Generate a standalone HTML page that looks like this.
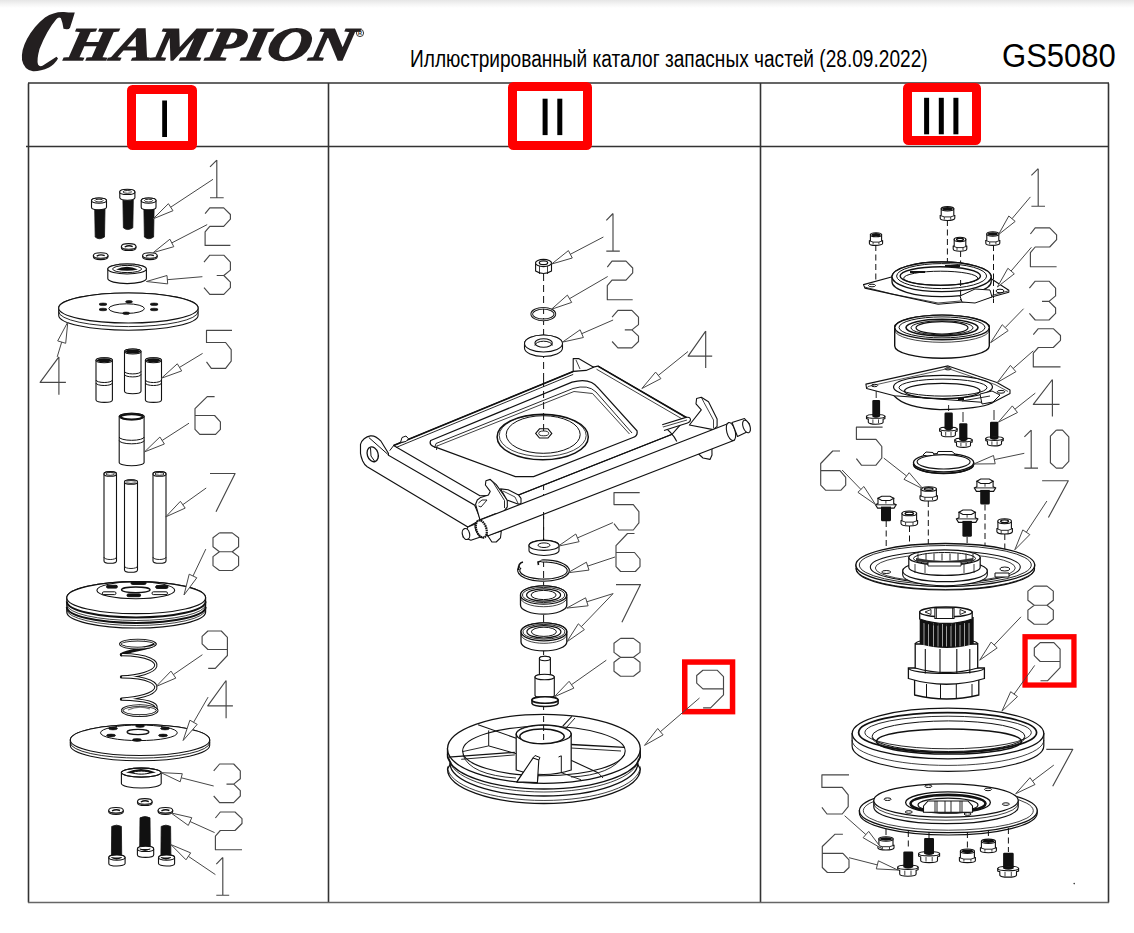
<!DOCTYPE html>
<html><head><meta charset="utf-8">
<style>
html,body{margin:0;padding:0;background:#fff;}
body{width:1134px;height:933px;position:relative;overflow:hidden;font-family:"Liberation Sans",sans-serif;}
#topband{position:absolute;left:0;top:0;width:1134px;height:8px;background:linear-gradient(#e6e6e6,#f4f4f4 50%,#fff);}
.logo{position:absolute;left:20px;top:4px;font-family:"Liberation Serif",serif;font-weight:bold;font-style:italic;color:#231f20;white-space:nowrap;}
.hdr{position:absolute;white-space:nowrap;color:#000;}
svg{position:absolute;left:0;top:0;}
</style></head><body>
<div id="topband"></div>
<svg width="1134" height="933" viewBox="0 0 1134 933">
<!-- table -->
<g stroke="#333" stroke-width="1.6" fill="none">
<path d="M28.5 83.5 V902.5 M1108.5 83.5 V902.5 M28 83 H1109 M26 146.5 H1109"/>
<path d="M328.5 83 V902.5 M760.5 83 V902.5"/>
</g>
<path d="M28 902.5 H1109" stroke="#666" stroke-width="1.4"/>
<!-- red boxes -->
<g stroke="#ff0000" fill="none" stroke-width="9" stroke-linejoin="round">
<rect x="131.5" y="89.5" width="61" height="56" rx="1"/>
<rect x="512.5" y="86.5" width="75" height="59" rx="1"/>
<rect x="907.5" y="87.5" width="69" height="53" rx="1"/>
</g>
<g fill="#000">
<rect x="162.2" y="100.5" width="4.8" height="36.5"/>
<rect x="542.6" y="98.7" width="5" height="36.4"/>
<rect x="557.3" y="98.7" width="5" height="36.4"/>
<rect x="924.1" y="97.8" width="5" height="36.5"/>
<rect x="938.8" y="97.8" width="5" height="36.5"/>
<rect x="953.4" y="97.8" width="5" height="36.5"/>
</g>
<path d="M94.7 208.8 L95.2 237 Q99 240.5 104.5 237 L105 208.8 Z" fill="#111" stroke="#111" stroke-width="0.8"/>
<path d="M91.5 200.6 L91.5 207.2 A7.5 2.6 0 0 0 106.5 207.2 L106.5 200.6 A7.5 2.6 0 0 0 91.5 200.6 Z" fill="#fff" stroke="#111" stroke-width="1.1"/>
<ellipse cx="99" cy="200.6" rx="7.5" ry="2.6" fill="#fff" stroke="#111" stroke-width="1.1" />
<ellipse cx="99" cy="200.6" rx="4.1" ry="1.4" fill="none" stroke="#111" stroke-width="0.9" />
<path d="M122.9 199.5 L123.4 227.8 Q127.3 231.3 132.8 227.8 L133.3 199.5 Z" fill="#111" stroke="#111" stroke-width="0.8"/>
<path d="M119.8 191.9 L119.8 197.9 A7.6 2.6 0 0 0 134.9 197.9 L134.9 191.9 A7.6 2.6 0 0 0 119.8 191.9 Z" fill="#fff" stroke="#111" stroke-width="1.1"/>
<ellipse cx="127.3" cy="191.9" rx="7.6" ry="2.6" fill="#fff" stroke="#111" stroke-width="1.1" />
<ellipse cx="127.3" cy="191.9" rx="4.2" ry="1.4" fill="none" stroke="#111" stroke-width="0.9" />
<path d="M143.9 208.8 L144.4 237 Q148.6 240.5 153.6 237 L154.1 208.8 Z" fill="#111" stroke="#111" stroke-width="0.8"/>
<path d="M141.2 200.6 L141.2 207.2 A7.4 2.6 0 0 0 156 207.2 L156 200.6 A7.4 2.6 0 0 0 141.2 200.6 Z" fill="#fff" stroke="#111" stroke-width="1.1"/>
<ellipse cx="148.6" cy="200.6" rx="7.4" ry="2.6" fill="#fff" stroke="#111" stroke-width="1.1" />
<ellipse cx="148.6" cy="200.6" rx="4.1" ry="1.4" fill="none" stroke="#111" stroke-width="0.9" />
<path d="M121.4 246.4 V247.7 A7.3 2.8 0 0 0 136 247.7 V246.4" fill="#fff" stroke="#111" stroke-width="1.1"/>
<ellipse cx="128.7" cy="246.4" rx="7.3" ry="2.8" fill="#fff" stroke="#111" stroke-width="1.1" />
<path d="M124.7 247 Q128.7 244.8 132.7 246.6" fill="none" stroke="#111" stroke-width="1.4"/>
<path d="M93.4 255.5 V256.8 A7.3 2.8 0 0 0 108 256.8 V255.5" fill="#fff" stroke="#111" stroke-width="1.1"/>
<ellipse cx="100.7" cy="255.5" rx="7.3" ry="2.8" fill="#fff" stroke="#111" stroke-width="1.1" />
<path d="M96.7 256.1 Q100.7 253.9 104.7 255.7" fill="none" stroke="#111" stroke-width="1.4"/>
<path d="M142.6 255.5 V256.8 A7.3 2.8 0 0 0 157.2 256.8 V255.5" fill="#fff" stroke="#111" stroke-width="1.1"/>
<ellipse cx="149.9" cy="255.5" rx="7.3" ry="2.8" fill="#fff" stroke="#111" stroke-width="1.1" />
<path d="M145.9 256.1 Q149.9 253.9 153.9 255.7" fill="none" stroke="#111" stroke-width="1.4"/>
<path d="M107.8 269 L107.8 278.6 A19.3 5 0 0 0 146.4 278.6 L146.4 269 A19.3 5 0 0 0 107.8 269 Z" fill="#fff" stroke="#111" stroke-width="1.1"/>
<ellipse cx="127.1" cy="269" rx="19.3" ry="5" fill="#fff" stroke="#111" stroke-width="1.1" />
<ellipse cx="127.1" cy="269" rx="14.5" ry="3.6" fill="none" stroke="#111" stroke-width="1.0" />
<path d="M116 269.5 Q127 264 138 269.5 Q127 272 116 269.5Z" fill="#111"/>
<path d="M58.7 308 L58.7 315.2 A69.7 15 0 0 0 198.1 315.2 L198.1 308 A69.7 15 0 0 0 58.7 308 Z" fill="#fff" stroke="#111" stroke-width="1.1"/>
<ellipse cx="128.4" cy="308" rx="69.7" ry="15" fill="#fff" stroke="#111" stroke-width="1.1" />
<path d="M58.7 311.6 A69.7 15 0 0 0 198.1 311.6" fill="none" stroke="#111" stroke-width="0.9"/>
<ellipse cx="126.6" cy="308.6" rx="17.8" ry="4.8" fill="none" stroke="#111" stroke-width="1.0" />
<ellipse cx="103" cy="304.3" rx="4" ry="1.3" fill="#111" stroke="#111" stroke-width="0.6" />
<ellipse cx="103" cy="309.5" rx="4" ry="1.3" fill="#111" stroke="#111" stroke-width="0.6" />
<ellipse cx="154.1" cy="304.3" rx="4" ry="1.3" fill="#111" stroke="#111" stroke-width="0.6" />
<ellipse cx="154.1" cy="309.5" rx="4" ry="1.3" fill="#111" stroke="#111" stroke-width="0.6" />
<ellipse cx="129" cy="301.8" rx="3.5" ry="1.3" fill="#111" stroke="#111" stroke-width="0.6" />
<ellipse cx="126.2" cy="313.3" rx="3.5" ry="1.3" fill="#111" stroke="#111" stroke-width="0.6" />
<path d="M96 360.3 L96 399.9 A8.2 2.5 0 0 0 112.4 399.9 L112.4 360.3 A8.2 2.5 0 0 0 96 360.3 Z" fill="#fff" stroke="#111" stroke-width="1.1"/>
<ellipse cx="104.2" cy="360.3" rx="8.2" ry="2.5" fill="#fff" stroke="#111" stroke-width="1.1" />
<ellipse cx="104.2" cy="360.3" rx="7.7" ry="2" fill="#111"/>
<path d="M96 380 A8.2 2.5 0 0 0 112.4 380" fill="none" stroke="#111" stroke-width="1.0"/>
<path d="M96 383 A8.2 2.5 0 0 0 112.4 383" fill="none" stroke="#111" stroke-width="1.0"/>
<path d="M124.5 351.5 L124.5 391.2 A8.2 2.5 0 0 0 141 391.2 L141 351.5 A8.2 2.5 0 0 0 124.5 351.5 Z" fill="#fff" stroke="#111" stroke-width="1.1"/>
<ellipse cx="132.8" cy="351.5" rx="8.2" ry="2.5" fill="#fff" stroke="#111" stroke-width="1.1" />
<ellipse cx="132.8" cy="351.5" rx="7.8" ry="2" fill="#111"/>
<path d="M124.5 371.4 A8.2 2.5 0 0 0 141 371.4" fill="none" stroke="#111" stroke-width="1.0"/>
<path d="M124.5 374.4 A8.2 2.5 0 0 0 141 374.4" fill="none" stroke="#111" stroke-width="1.0"/>
<path d="M145.4 360.3 L145.4 399.9 A8 2.5 0 0 0 161.5 399.9 L161.5 360.3 A8 2.5 0 0 0 145.4 360.3 Z" fill="#fff" stroke="#111" stroke-width="1.1"/>
<ellipse cx="153.4" cy="360.3" rx="8" ry="2.5" fill="#fff" stroke="#111" stroke-width="1.1" />
<ellipse cx="153.4" cy="360.3" rx="7.5" ry="2" fill="#111"/>
<path d="M145.4 380 A8 2.5 0 0 0 161.5 380" fill="none" stroke="#111" stroke-width="1.0"/>
<path d="M145.4 383 A8 2.5 0 0 0 161.5 383" fill="none" stroke="#111" stroke-width="1.0"/>
<path d="M119.2 416.5 L119.2 462.5 A12.4 3.3 0 0 0 144.1 462.5 L144.1 416.5 A12.4 3.3 0 0 0 119.2 416.5 Z" fill="#fff" stroke="#111" stroke-width="1.1"/>
<ellipse cx="131.7" cy="416.5" rx="12.4" ry="3.3" fill="#fff" stroke="#111" stroke-width="1.1" />
<ellipse cx="131.7" cy="416.8" rx="11" ry="2.6" fill="#fff" stroke="#111" stroke-width="2.0" />
<path d="M119.2 437 A12.4 3.3 0 0 0 144.1 437" fill="none" stroke="#111" stroke-width="1.0"/>
<path d="M119.2 440.5 A12.4 3.3 0 0 0 144.1 440.5" fill="none" stroke="#111" stroke-width="1.0"/>
<path d="M104 473.9 L104 560.9 A6.2 2.3 0 0 0 116.5 560.9 L116.5 473.9 A6.2 2.3 0 0 0 104 473.9 Z" fill="#fff" stroke="#111" stroke-width="1.1"/>
<ellipse cx="110.2" cy="473.9" rx="6.2" ry="2.3" fill="#fff" stroke="#111" stroke-width="1.1" />
<ellipse cx="110.2" cy="473.9" rx="4.2" ry="1.4" fill="none" stroke="#111" stroke-width="0.9" />
<path d="M104 557.2 A6.2 2.3 0 0 0 116.5 557.2" fill="none" stroke="#111" stroke-width="0.9"/>
<path d="M124.5 482 L124.5 569.9 A6.5 2.3 0 0 0 137.5 569.9 L137.5 482 A6.5 2.3 0 0 0 124.5 482 Z" fill="#fff" stroke="#111" stroke-width="1.1"/>
<ellipse cx="131" cy="482" rx="6.5" ry="2.3" fill="#fff" stroke="#111" stroke-width="1.1" />
<ellipse cx="131" cy="482" rx="4.5" ry="1.4" fill="none" stroke="#111" stroke-width="0.9" />
<path d="M124.5 566.2 A6.5 2.3 0 0 0 137.5 566.2" fill="none" stroke="#111" stroke-width="0.9"/>
<path d="M153 473.9 L153 560.9 A6.5 2.3 0 0 0 166 560.9 L166 473.9 A6.5 2.3 0 0 0 153 473.9 Z" fill="#fff" stroke="#111" stroke-width="1.1"/>
<ellipse cx="159.5" cy="473.9" rx="6.5" ry="2.3" fill="#fff" stroke="#111" stroke-width="1.1" />
<ellipse cx="159.5" cy="473.9" rx="4.5" ry="1.4" fill="none" stroke="#111" stroke-width="0.9" />
<path d="M153 557.2 A6.5 2.3 0 0 0 166 557.2" fill="none" stroke="#111" stroke-width="0.9"/>
<path d="M66.8 597.7 L66.8 612 A69.4 16 0 0 0 205.6 612 L205.6 597.7 A69.4 16 0 0 0 66.8 597.7 Z" fill="#fff" stroke="#111" stroke-width="1.2"/>
<ellipse cx="136.2" cy="597.7" rx="69.4" ry="16" fill="#fff" stroke="#111" stroke-width="1.2" />
<path d="M66.8 601.5 A69.4 16 0 0 0 205.6 601.5" fill="none" stroke="#111" stroke-width="2.0"/>
<path d="M66.8 604.5 A69.4 16 0 0 0 205.6 604.5" fill="none" stroke="#111" stroke-width="0.8"/>
<path d="M66.8 607 A69.4 16 0 0 0 205.6 607" fill="none" stroke="#111" stroke-width="2.0"/>
<path d="M66.8 609.5 A69.4 16 0 0 0 205.6 609.5" fill="none" stroke="#111" stroke-width="0.8"/>
<ellipse cx="135.8" cy="590.2" rx="38.9" ry="8.5" fill="none" stroke="#111" stroke-width="1.1" />
<ellipse cx="135.8" cy="589.8" rx="14.3" ry="2.8" fill="none" stroke="#111" stroke-width="1.3" />
<rect x="131" y="581.6" width="15.099999999999994" height="2.8" rx="1.4" fill="#111" stroke="#111" stroke-width="1"/>
<rect x="106.5" y="585.3000000000001" width="10.900000000000006" height="2.8" rx="1.4" fill="#111" stroke="#111" stroke-width="1"/>
<rect x="155.7" y="585.6" width="12.300000000000011" height="2.8" rx="1.4" fill="#111" stroke="#111" stroke-width="1"/>
<rect x="102.4" y="591.8000000000001" width="13.599999999999994" height="2.8" rx="1.4" fill="#fff" stroke="#111" stroke-width="1"/>
<rect x="152" y="591.8000000000001" width="15.5" height="2.8" rx="1.4" fill="#fff" stroke="#111" stroke-width="1"/>
<rect x="127" y="593.9" width="13.599999999999994" height="2.8" rx="1.4" fill="#111" stroke="#111" stroke-width="1"/>
<g fill="none" stroke="#111" stroke-width="3.3" stroke-linecap="round"><path d="M121.5 654.7 C150 655 157 662 155.7 666.3 C154 672 138 676.5 121.5 676.9 M121.5 676.9 C150 677 157 684 155.7 688.5 C154 694 138 698.5 121.5 699.1 M121.5 699.1 C148 699.5 157 704 156 708"/><path d="M121.5 654.7 C128 650 150 649 155 644"/></g>
<g fill="none" stroke="#fff" stroke-width="1.3" stroke-linecap="round"><path d="M122.5 654.7 C150 655 157 662 155.7 666.3 C154 672 138 676.5 122.5 676.9 M122.5 676.9 C150 677 157 684 155.7 688.5 C154 694 138 698.5 122.5 699.1 M122.5 699.1 C148 699.5 157 704 156 708"/></g>
<ellipse cx="137.8" cy="644.1" rx="17.5" ry="4" fill="none" stroke="#111" stroke-width="2.6" />
<ellipse cx="137.8" cy="644.1" rx="17.5" ry="4" fill="none" stroke="#fff" stroke-width="0.9" />
<ellipse cx="139.7" cy="710.6" rx="17.5" ry="5" fill="none" stroke="#111" stroke-width="2.6" />
<ellipse cx="139.7" cy="710.6" rx="17.5" ry="5" fill="none" stroke="#fff" stroke-width="0.9" />
<path d="M128 710 Q139 705 150 709" fill="none" stroke="#777" stroke-width="1.2"/>
<path d="M70.3 740 L70.3 745.3 A69.7 15.5 0 0 0 209.7 745.3 L209.7 740 A69.7 15.5 0 0 0 70.3 740 Z" fill="#fff" stroke="#111" stroke-width="1.1"/>
<ellipse cx="140" cy="740" rx="69.7" ry="15.5" fill="#fff" stroke="#111" stroke-width="1.1" />
<path d="M70.3 742.6 A69.7 15.5 0 0 0 209.7 742.6" fill="none" stroke="#111" stroke-width="0.9"/>
<ellipse cx="138.9" cy="732.8" rx="38.4" ry="7.8" fill="none" stroke="#111" stroke-width="1.0" />
<ellipse cx="138" cy="732" rx="11" ry="2.6" fill="none" stroke="#111" stroke-width="1.2" />
<ellipse cx="113" cy="728.5" rx="4.5" ry="1.4" fill="#111" stroke="#111" stroke-width="0.6" />
<ellipse cx="165" cy="728.5" rx="4.5" ry="1.4" fill="#111" stroke="#111" stroke-width="0.6" />
<ellipse cx="111" cy="735.5" rx="4.5" ry="1.4" fill="#111" stroke="#111" stroke-width="0.6" />
<ellipse cx="163" cy="735.5" rx="4.5" ry="1.4" fill="#111" stroke="#111" stroke-width="0.6" />
<ellipse cx="140" cy="726" rx="4.5" ry="1.4" fill="#111" stroke="#111" stroke-width="0.6" />
<ellipse cx="137" cy="740" rx="4.5" ry="1.4" fill="#111" stroke="#111" stroke-width="0.6" />
<path d="M121.4 772.6 L121.4 783.5 A19.9 4.5 0 0 0 161.2 783.5 L161.2 772.6 A19.9 4.5 0 0 0 121.4 772.6 Z" fill="#fff" stroke="#111" stroke-width="1.1"/>
<ellipse cx="141.3" cy="772.6" rx="19.9" ry="4.5" fill="#fff" stroke="#111" stroke-width="1.1" />
<path d="M126 772.6 Q141 765.5 156 772.6 Q141 776 126 772.6Z" fill="#111"/>
<ellipse cx="141.3" cy="772.6" rx="19.9" ry="4.5" fill="none" stroke="#111" stroke-width="1.0" />
<ellipse cx="141.3" cy="772.6" rx="8" ry="1.5" fill="#fff" stroke="#111" stroke-width="1.0" />
<path d="M137.5 801.4 V802.7 A7.3 2.8 0 0 0 152.1 802.7 V801.4" fill="#fff" stroke="#111" stroke-width="1.1"/>
<ellipse cx="144.8" cy="801.4" rx="7.3" ry="2.8" fill="#fff" stroke="#111" stroke-width="1.1" />
<path d="M140.8 802 Q144.8 799.8 148.8 801.6" fill="none" stroke="#111" stroke-width="1.4"/>
<path d="M108.7 810.3 V811.6 A7.3 2.8 0 0 0 123.3 811.6 V810.3" fill="#fff" stroke="#111" stroke-width="1.1"/>
<ellipse cx="116" cy="810.3" rx="7.3" ry="2.8" fill="#fff" stroke="#111" stroke-width="1.1" />
<path d="M112 810.9 Q116 808.7 120 810.5" fill="none" stroke="#111" stroke-width="1.4"/>
<path d="M158.1 810.3 V811.6 A7.3 2.8 0 0 0 172.7 811.6 V810.3" fill="#fff" stroke="#111" stroke-width="1.1"/>
<ellipse cx="165.4" cy="810.3" rx="7.3" ry="2.8" fill="#fff" stroke="#111" stroke-width="1.1" />
<path d="M161.4 810.9 Q165.4 808.7 169.4 810.5" fill="none" stroke="#111" stroke-width="1.4"/>
<path d="M111.4 855.9 L111.7 826.4 Q116.6 823.9 121.4 826.4 L121.7 855.9 Z" fill="#111" stroke="#111" stroke-width="0.8"/>
<path d="M108.8 857.5 L108.8 863.4 A8.1 2.6 0 0 0 125.1 863.4 L125.1 857.5 A8.1 2.6 0 0 0 108.8 857.5 Z" fill="#fff" stroke="#111" stroke-width="1.1"/>
<ellipse cx="116.9" cy="857.5" rx="8.1" ry="2.6" fill="#fff" stroke="#111" stroke-width="1.1" />
<path d="M111.4 857.5 Q116.6 860.5 121.7 857.5" fill="#111" stroke="#111"/>
<path d="M139.7 847.3 L140 817.8 Q145 815.3 150 817.8 L150.3 847.3 Z" fill="#111" stroke="#111" stroke-width="0.8"/>
<path d="M137.4 848.9 L137.4 854.8 A8.1 2.6 0 0 0 153.7 854.8 L153.7 848.9 A8.1 2.6 0 0 0 137.4 848.9 Z" fill="#fff" stroke="#111" stroke-width="1.1"/>
<ellipse cx="145.6" cy="848.9" rx="8.1" ry="2.6" fill="#fff" stroke="#111" stroke-width="1.1" />
<path d="M139.7 848.9 Q145 851.9 150.3 848.9" fill="#111" stroke="#111"/>
<path d="M160.9 855.9 L161.2 826.4 Q165.9 823.9 170.6 826.4 L170.9 855.9 Z" fill="#111" stroke="#111" stroke-width="0.8"/>
<path d="M158.5 857.5 L158.5 863.4 A8 2.6 0 0 0 174.6 863.4 L174.6 857.5 A8 2.6 0 0 0 158.5 857.5 Z" fill="#fff" stroke="#111" stroke-width="1.1"/>
<ellipse cx="166.6" cy="857.5" rx="8" ry="2.6" fill="#fff" stroke="#111" stroke-width="1.1" />
<path d="M160.9 857.5 Q165.9 860.5 170.9 857.5" fill="#111" stroke="#111"/>
<path d="M216.8 160.1 L216.8 197.7M216.8 160.1 L210 166.9M210 197.7 L223.7 197.7" fill="none" stroke="#474747" stroke-width="1.15" stroke-linejoin="round"/>
<path d="M205.1 213.7 L209.8 207.8 L223.7 207.8 L230.4 214.5 L230.4 219.2 L223.7 226.3 L209.8 226.3 L205.1 231.8 L205.1 245.4 L230.4 245.4" fill="none" stroke="#474747" stroke-width="1.15" stroke-linejoin="round"/>
<path d="M204 262.2 L209.8 255.2 L223.8 255.2 L230.4 262.2 L230.4 270.1 L223.8 275.5 L216.7 275.5M223.8 275.5 L230.4 282.2 L230.4 287.7 L223.8 294.3 L209.8 294.3 L204 287.7" fill="none" stroke="#474747" stroke-width="1.15" stroke-linejoin="round"/>
<path d="M58.9 356.9 L40.1 382.4 L65.9 382.4M58.9 356.9 L58.9 394.7" fill="none" stroke="#474747" stroke-width="1.15" stroke-linejoin="round"/>
<path d="M232 330.3 L206.5 330.3 L206.5 342.5 L225.6 342.5 L231.2 349.7 L231.2 361.1 L225.6 368.3 L211.3 368.3 L206.5 361.8" fill="none" stroke="#474747" stroke-width="1.15" stroke-linejoin="round"/>
<path d="M214.6 396.6 L207.2 396.6 L195 408.7 L195 429.4 L199.8 434.3 L215.6 434.3 L220.4 429.4 L220.4 421.9 L214.6 415.5 L195 415.5" fill="none" stroke="#474747" stroke-width="1.15" stroke-linejoin="round"/>
<path d="M210 473.5 L235.1 473.5 L216 511.7" fill="none" stroke="#474747" stroke-width="1.15" stroke-linejoin="round"/>
<path d="M219.4 532.9 L232.2 532.9 L238.6 537.8 L238.6 546.8 L232.2 551.7 L219.4 551.7 L213 546.8 L213 537.8 L219.4 532.9M219.4 551.7 L213 556.6 L213 565.6 L219.4 570.5 L232.2 570.5 L238.6 565.6 L238.6 556.6 L232.2 551.7" fill="none" stroke="#474747" stroke-width="1.15" stroke-linejoin="round"/>
<path d="M227.4 649.5 L207.9 649.5 L202.1 643.8 L202.1 636.3 L207.9 631 L221.3 631 L227.4 637.4 L227.4 655.5 L215.3 668.3 L208.2 668.3" fill="none" stroke="#474747" stroke-width="1.15" stroke-linejoin="round"/>
<path d="M226.1 680.5 L207.7 705.9 L232.9 705.9M226.1 680.5 L226.1 718.2" fill="none" stroke="#474747" stroke-width="1.15" stroke-linejoin="round"/>
<path d="M213.7 770.9 L219.6 764 L233.7 764 L240.3 770.9 L240.3 778.7 L233.7 784.1 L226.5 784.1M233.7 784.1 L240.3 790.6 L240.3 796 L233.7 802.6 L219.6 802.6 L213.7 796" fill="none" stroke="#474747" stroke-width="1.15" stroke-linejoin="round"/>
<path d="M215.4 818 L220.3 812 L235 812 L242 818.7 L242 823.5 L235 830.5 L220.3 830.5 L215.4 836.1 L215.4 849.7 L242 849.7" fill="none" stroke="#474747" stroke-width="1.15" stroke-linejoin="round"/>
<path d="M222.8 857.4 L222.8 895.2M222.8 857.4 L216.3 864.2M216.3 895.2 L229.2 895.2" fill="none" stroke="#474747" stroke-width="1.15" stroke-linejoin="round"/>
<path d="M213 179.3 L170.7 207.2 M153.2 218.8 L168.4 203.7 L173 210.7 Z" fill="#fff" stroke="#474747" stroke-width="1.0" stroke-linejoin="miter"/>
<path d="M207.2 224.6 L171.8 242.9 M153.2 252.6 L169.9 239.2 L173.8 246.7 Z" fill="#fff" stroke="#474747" stroke-width="1.0" stroke-linejoin="miter"/>
<path d="M202.4 276.7 L167.3 279.7 M146.4 281.5 L167 275.5 L167.7 283.9 Z" fill="#fff" stroke="#474747" stroke-width="1.0" stroke-linejoin="miter"/>
<path d="M57.2 356.9 L61.7 342.1 M67.8 322 L65.7 343.3 L57.7 340.9 Z" fill="#fff" stroke="#474747" stroke-width="1.0" stroke-linejoin="miter"/>
<path d="M202.6 353.4 L179.5 367.4 M161.5 378.2 L177.3 363.8 L181.7 370.9 Z" fill="#fff" stroke="#474747" stroke-width="1.0" stroke-linejoin="miter"/>
<path d="M189 423.2 L162.1 440.5 M144.5 451.9 L159.9 437 L164.4 444 Z" fill="#fff" stroke="#474747" stroke-width="1.0" stroke-linejoin="miter"/>
<path d="M206.2 488 L182.8 504.7 M165.7 516.9 L180.4 501.3 L185.2 508.1 Z" fill="#fff" stroke="#474747" stroke-width="1.0" stroke-linejoin="miter"/>
<path d="M205.8 549.1 L193 576 M184 595 L189.2 574.2 L196.8 577.8 Z" fill="#fff" stroke="#474747" stroke-width="1.0" stroke-linejoin="miter"/>
<path d="M202.4 654.7 L173.4 674.6 M156.1 686.5 L171 671.1 L175.8 678.1 Z" fill="#fff" stroke="#474747" stroke-width="1.0" stroke-linejoin="miter"/>
<path d="M208.1 697.1 L193.6 722.3 M183.1 740.5 L189.9 720.2 L197.2 724.4 Z" fill="#fff" stroke="#474747" stroke-width="1.0" stroke-linejoin="miter"/>
<path d="M213.7 786 L181.3 777.8 M160.9 772.6 L182.3 773.7 L180.2 781.8 Z" fill="#fff" stroke="#474747" stroke-width="1.0" stroke-linejoin="miter"/>
<path d="M214.6 832.6 L190 821.5 M170.9 812.9 L191.8 817.7 L188.3 825.4 Z" fill="#fff" stroke="#474747" stroke-width="1.0" stroke-linejoin="miter"/>
<path d="M215.4 874.6 L188.3 856.3 M170.9 844.6 L190.7 852.9 L186 859.8 Z" fill="#fff" stroke="#474747" stroke-width="1.0" stroke-linejoin="miter"/>
<path d="M543.6 274 V770" stroke="#111" stroke-width="1.0" stroke-dasharray="7 4"/>
<path d="M535.6 263 V271 Q543.5 276 551.5 271 V263 Z" fill="#fff" stroke="#111" stroke-width="1.1"/>
<path d="M539.5 266 L539.5 274" fill="none" stroke="#111" stroke-width="0.8" />
<path d="M547.5 266 L547.5 274" fill="none" stroke="#111" stroke-width="0.8" />
<ellipse cx="543.5" cy="263" rx="8" ry="3.6" fill="#fff" stroke="#111" stroke-width="1.1" />
<ellipse cx="543.5" cy="262.8" rx="4.2" ry="1.9" fill="none" stroke="#111" stroke-width="1.2" />
<ellipse cx="543.3" cy="314.1" rx="11.6" ry="5.8" fill="none" stroke="#111" stroke-width="2.6" />
<ellipse cx="543.3" cy="314.1" rx="11.6" ry="5.8" fill="none" stroke="#fff" stroke-width="0.8" />
<path d="M524.5 343.5 L524.5 348 A19 8.5 0 0 0 562.5 348 L562.5 343.5 A19 8.5 0 0 0 524.5 343.5 Z" fill="#fff" stroke="#111" stroke-width="1.1"/>
<ellipse cx="543.5" cy="343.5" rx="19" ry="8.5" fill="#fff" stroke="#111" stroke-width="1.1" />
<ellipse cx="543.6" cy="343" rx="8.7" ry="4.3" fill="#fff" stroke="#111" stroke-width="1.1" />
<path d="M534.9 345.5 A8.7 4.3 0 0 1 552.3 345.5" fill="none" stroke="#111" stroke-width="1.0"/>
<path d="M393.6 445.6 L573.2 371.4 L597.9 366.1 L686.7 417.7 L672.2 434.2 L518.5 494.9 L479.9 495.7Z" fill="#fff" stroke="#111" stroke-width="1.1" stroke-linejoin="round"/>
<path d="M396 447.5 L573.2 374.4" fill="none" stroke="#111" stroke-width="0.9" />
<path d="M393.6 445.6 L573.2 371.4" fill="none" stroke="#111" stroke-width="1.6" />
<path d="M400.5 442.5 L402 437.5 L406 436 L408.5 438.8 L406 441.5Z" fill="#fff" stroke="#111" stroke-width="1.0" stroke-linejoin="round"/>
<path d="M573.2 371.4 L573.2 358.6 L578.6 358.6 L593.6 367.2 L586.1 370.4Z" fill="#fff" stroke="#111" stroke-width="1.1" stroke-linejoin="round"/>
<path d="M576 360 L580 369" fill="none" stroke="#111" stroke-width="0.8" />
<path d="M597.9 366.1 L686.7 417.7" fill="none" stroke="#111" stroke-width="1.6" />
<path d="M596.5 369.2 L684.5 420.3" fill="none" stroke="#111" stroke-width="0.8" />
<path d="M388.4 453.3 L380.7 440.8 C377 437 373 435.5 370.4 435.9 C366 436.5 361.5 440 360.5 444.3 L360.5 453.3 C361 457 362 459 362.7 461 C364 464 365.5 465.5 367.2 466.8 L467.9 527 L480.7 519.7 L474.7 505.2 L388.4 455.2 Z" fill="#fff" stroke="#111" stroke-width="1.15"/>
<path d="M368.8 437.5 L387.8 454.3" fill="none" stroke="#111" stroke-width="1.0" />
<path d="M389.7 450.7 L393.6 445.6" fill="none" stroke="#111" stroke-width="1.0" />
<ellipse cx="372.7" cy="454.3" rx="5.4" ry="7.6" transform="rotate(-18 372.7 454.3)" fill="#fff" stroke="#111" stroke-width="1.3"/>
<path d="M370.5 448 L371 456 L374.5 461" fill="none" stroke="#111" stroke-width="1.0" />
<path d="M430.7 440.5 L572 382.2 Q590 377 598.6 388.3 L637 430.8 Q638 436 633 437.5 L533.6 476.5 L515.3 476.5 L438.3 448.1 Q428 446 430.7 440.5 Z" fill="#fff" stroke="#111" stroke-width="1.25"/>
<path d="M434.5 448 L436 443.5 L573 388.5 Q588 384 596 392 L632 433" fill="none" stroke="#111" stroke-width="0.9"/>
<path d="M437 446 L574 391.5 L592.5 393.5 L629.5 434" fill="none" stroke="#111" stroke-width="0.8"/>
<path d="M436.5 450 L437 445.5" fill="none" stroke="#111" stroke-width="0.9" />
<ellipse cx="542.7" cy="437" rx="45.6" ry="22.7" fill="#fff" stroke="#111" stroke-width="1.5" />
<ellipse cx="542.7" cy="435.5" rx="43.5" ry="21" fill="none" stroke="#111" stroke-width="0.8" />
<ellipse cx="543.2" cy="434.5" rx="37" ry="18.8" fill="none" stroke="#111" stroke-width="1.0" />
<path d="M535.7 433.4 L539.5 428.8 H548 L551.8 433.4 L548 438 H539.5 Z" fill="#fff" stroke="#111" stroke-width="1.1"/>
<ellipse cx="543.7" cy="433.4" rx="5" ry="2.4" fill="none" stroke="#111" stroke-width="0.9" />
<path d="M518.5 494.9 L672.2 434.2" fill="none" stroke="#111" stroke-width="1.1" />
<path d="M475.6 504.3 L477.3 500 L480.7 497.4 L488.4 494.9 L490.2 491.4 L485.4 485 L485.9 480.7 L490.2 479.4 L496.2 484.6 L507.3 500 L507.3 506.9 L504.7 510.3 L501.3 513.7 L495.3 513.7 L479.9 519.7Z" fill="#fff" stroke="#111" stroke-width="1.1" stroke-linejoin="round"/>
<path d="M490.2 479.4 L493.5 483 L504.5 500.5 L504.5 508" fill="none" stroke="#111" stroke-width="0.9" />
<path d="M478.5 503 L482 500 L487 500 L481 507 L478.5 506" fill="none" stroke="#111" stroke-width="0.9" />
<path d="M500.5 488.9 L508.2 489.7 L518.5 494.9 L521 498.3 L521 503.4 L518.5 504.3 L507 500Z" fill="#fff" stroke="#111" stroke-width="1.1" stroke-linejoin="round"/>
<path d="M503 491 L515 497 L518.5 504.3" fill="none" stroke="#111" stroke-width="0.8" />
<path d="M662.9 426.3 Q672 432 676.8 441.5" fill="none" stroke="#111" stroke-width="1.1"/>
<path d="M662.2 424.8 L686 417.4 Q690 416.5 690.5 419.5 Q690.5 422 687.5 423 L664 430.5" fill="#fff" stroke="#111" stroke-width="1.1"/>
<path d="M663 427 L687 420" fill="none" stroke="#111" stroke-width="0.8" />
<path d="M689.4 425 L701.3 409.8 L696 403.8 L696.6 398.5 L701.3 397.2 L708.5 401.8 L717.1 419 L717.1 426.3 L713.2 429.6Z" fill="#fff" stroke="#111" stroke-width="1.1" stroke-linejoin="round"/>
<path d="M701.3 397.2 L704 402.5 L713.5 420 L713.5 428" fill="none" stroke="#111" stroke-width="0.8" />
<path d="M487.6 535.5 L491.9 542 L496.2 542 L500.5 537.8 L501.3 531Z" fill="#fff" stroke="#111" stroke-width="1.1" stroke-linejoin="round"/>
<path d="M697 452.5 L703 458 L710 459.4 L712 455 L711.9 447.5Z" fill="#fff" stroke="#111" stroke-width="1.1" stroke-linejoin="round"/>
<path d="M480.7 519.7 L729 423.3 L734.3 440.2 L487.6 536Z" fill="#fff" stroke="#111" stroke-width="1.15" stroke-linejoin="round"/>
<path d="M467.9 527 L476.5 523.6 L482 536.5 L470.9 540.3 L463 537Z" fill="#fff" stroke="#111" stroke-width="1.1" stroke-linejoin="round"/>
<ellipse cx="466" cy="534" rx="3.6" ry="5.6" transform="rotate(-15 466 534)" fill="#fff" stroke="#111" stroke-width="1.2"/>
<ellipse cx="481.3" cy="529" rx="5" ry="8.9" transform="rotate(-18 481.3 529)" fill="#fff" stroke="#111" stroke-width="2.2" stroke-dasharray="1.6 0.6"/>
<path d="M476 522 A5 8.9 -18 0 0 484 537" fill="none" stroke="#111" stroke-width="1"/>
<ellipse cx="731" cy="431.6" rx="4.2" ry="9.3" transform="rotate(-15 731 431.6)" fill="#fff" stroke="#111" stroke-width="1.1"/>
<path d="M732 422.5 L744.5 418.5 L749.5 424 L750 430.5 L737.5 436.5Z" fill="#fff" stroke="#111" stroke-width="1.1" stroke-linejoin="round"/>
<ellipse cx="746.5" cy="426.5" rx="3.4" ry="6.6" transform="rotate(-20 746.5 426.5)" fill="#fff" stroke="#111" stroke-width="1.1"/>
<path d="M543.6 380 V431 M543.6 512 V540" stroke="#111" stroke-width="1.0" stroke-dasharray="7 4"/>
<path d="M529 545.4 L529 550.5 A15 5 0 0 0 559 550.5 L559 545.4 A15 5 0 0 0 529 545.4 Z" fill="#fff" stroke="#111" stroke-width="1.1"/>
<ellipse cx="544" cy="545.4" rx="15" ry="5" fill="#fff" stroke="#111" stroke-width="1.1" />
<ellipse cx="544" cy="545.2" rx="6" ry="2.3" fill="#fff" stroke="#111" stroke-width="1.0" />
<path d="M520.3 567.2 A24.8 9.6 0 1 0 541.4 561" fill="none" stroke="#111" stroke-width="3.2"/>
<path d="M520.3 567.2 A24.8 9.6 0 1 0 541.4 561" fill="none" stroke="#fff" stroke-width="1.0"/>
<path d="M518.5 570 Q518 563 523 562 M541.4 561 L538 562 L538.5 565" fill="none" stroke="#111" stroke-width="1.6"/>
<path d="M520.5 595 L520.5 605 A23.1 9.2 0 0 0 566.8 605 L566.8 595 A23.1 9.2 0 0 0 520.5 595 Z" fill="#fff" stroke="#111" stroke-width="1.3"/>
<ellipse cx="543.6" cy="595" rx="23.1" ry="9.2" fill="#fff" stroke="#111" stroke-width="1.3" />
<ellipse cx="543.6" cy="595" rx="21.1" ry="7.6" fill="none" stroke="#111" stroke-width="0.9" />
<ellipse cx="543.6" cy="595" rx="17" ry="6.2" fill="none" stroke="#111" stroke-width="1.2" />
<ellipse cx="543.6" cy="595" rx="12.5" ry="4.6" fill="none" stroke="#111" stroke-width="1.0" />
<path d="M520.5 597.5 A23.1 9.2 0 0 0 566.8 597.5" fill="none" stroke="#111" stroke-width="0.8"/>
<path d="M521 631.8 L521 641.9 A22.9 9 0 0 0 566.8 641.9 L566.8 631.8 A22.9 9 0 0 0 521 631.8 Z" fill="#fff" stroke="#111" stroke-width="1.3"/>
<ellipse cx="543.9" cy="631.8" rx="22.9" ry="9" fill="#fff" stroke="#111" stroke-width="1.3" />
<ellipse cx="543.9" cy="631.8" rx="20.9" ry="7.4" fill="none" stroke="#111" stroke-width="0.9" />
<ellipse cx="543.9" cy="631.8" rx="17" ry="6.2" fill="none" stroke="#111" stroke-width="1.2" />
<ellipse cx="543.9" cy="631.8" rx="12.5" ry="4.6" fill="none" stroke="#111" stroke-width="1.0" />
<path d="M521 634.3 A22.9 9 0 0 0 566.8 634.3" fill="none" stroke="#111" stroke-width="0.8"/>
<path d="M539.4 658.5 L539.4 674 A5.5 2.2 0 0 0 550.4 674 L550.4 658.5 A5.5 2.2 0 0 0 539.4 658.5 Z" fill="#fff" stroke="#111" stroke-width="1.1"/>
<ellipse cx="544.9" cy="658.5" rx="5.5" ry="2.2" fill="#fff" stroke="#111" stroke-width="1.1" />
<path d="M535 677 L535 695.5 A9.7 2.8 0 0 0 554.3 695.5 L554.3 677 A9.7 2.8 0 0 0 535 677 Z" fill="#fff" stroke="#111" stroke-width="1.1"/>
<ellipse cx="544.6" cy="677" rx="9.7" ry="2.8" fill="#fff" stroke="#111" stroke-width="1.1" />
<path d="M532 700 L532 703.5 A13.1 3.2 0 0 0 558.1 703.5 L558.1 700 A13.1 3.2 0 0 0 532 700 Z" fill="#fff" stroke="#111" stroke-width="1.5"/>
<ellipse cx="545" cy="700" rx="13.1" ry="3.2" fill="#fff" stroke="#111" stroke-width="1.5" />
<path d="M447.5 748.8 L447.5 757 L451 763 L447.5 769 A96.4 34.5 0 0 0 640.3 769 L637 763 L640.3 757 L640.3 748.8 Z" fill="#fff" stroke="#111" stroke-width="1.3"/>
<path d="M447.5 754.5 A96.4 34.5 0 0 0 640.3 754.5" fill="none" stroke="#111" stroke-width="1.4"/>
<path d="M449.4 758.5 A94.5 33.5 0 0 0 638.4 758.5" fill="none" stroke="#111" stroke-width="0.8"/>
<path d="M449.9 763 A94 33 0 0 0 637.9 763" fill="none" stroke="#111" stroke-width="1.3"/>
<path d="M447.5 766.5 A96.4 34 0 0 0 640.3 766.5" fill="none" stroke="#111" stroke-width="0.8"/>
<ellipse cx="543.9" cy="748.8" rx="96.4" ry="34.5" fill="#fff" stroke="#111" stroke-width="1.3" />
<ellipse cx="543.9" cy="751" rx="81.3" ry="24.8" fill="none" stroke="#111" stroke-width="1.1" />
<path d="M463 755 Q470 775 516 778 M571 777 Q612 775 624 755" fill="none" stroke="#111" stroke-width="0.9"/>
<path d="M478.1 724.8 L516.2 738.2" fill="none" stroke="#111" stroke-width="1.1" />
<path d="M488.7 730.4 L488.7 745.9 L516.2 753.7" fill="none" stroke="#111" stroke-width="1.0" />
<path d="M462.6 751.6 L488.7 745.9" fill="none" stroke="#111" stroke-width="0.9" />
<path d="M571.9 716.3 L562.8 726.2" fill="none" stroke="#111" stroke-width="1.1" />
<path d="M575 718 L566 728" fill="none" stroke="#111" stroke-width="0.9" />
<path d="M448.5 757.2 L514.8 752.3" fill="none" stroke="#111" stroke-width="1.3" />
<path d="M461.2 759.3 L514.8 754.9" fill="none" stroke="#111" stroke-width="0.9" />
<path d="M624.7 747.3 L571.1 744.5" fill="none" stroke="#111" stroke-width="1.3" />
<path d="M621 751 L571.1 748" fill="none" stroke="#111" stroke-width="0.9" />
<path d="M516.9 781.9 L533.1 757.9 L538.8 760 L537.4 782.6Z" fill="#fff" stroke="#111" stroke-width="1.1" stroke-linejoin="round"/>
<path d="M533.1 757.9 L535 755.5 L540 757.5 L538.8 760" fill="none" stroke="#111" stroke-width="1.0" />
<path d="M561.3 755.8 L598 772.7" fill="none" stroke="#111" stroke-width="1.1" />
<path d="M561.3 772.7 L581.1 779.8" fill="none" stroke="#111" stroke-width="0.9" />
<path d="M561.3 755.8 L561.3 772.7" fill="none" stroke="#111" stroke-width="1.0" />
<path d="M598 772.7 L603 778" fill="none" stroke="#111" stroke-width="0.9" />
<path d="M516.2 734 V770 Q543.7 779 571.2 770 V734 Z" fill="#fff" stroke="#111" stroke-width="1.2"/>
<path d="M516.9 781.9 L533.1 757.9 L538.8 760 L537.4 782.6Z" fill="#fff" stroke="#111" stroke-width="1.1" stroke-linejoin="round"/>
<path d="M533.1 757.9 L535 755.5 L540 757.5 L538.8 760" fill="none" stroke="#111" stroke-width="1.0" />
<path d="M561.3 755.8 L561.3 772.7" fill="none" stroke="#111" stroke-width="1.0" />
<path d="M558.5 757 L561.3 755.8" fill="none" stroke="#111" stroke-width="1.0" />
<ellipse cx="543.7" cy="734" rx="27.5" ry="9.2" fill="#fff" stroke="#111" stroke-width="1.3" />
<ellipse cx="542" cy="736.4" rx="22.2" ry="7.4" fill="#fff" stroke="#111" stroke-width="1.5" />
<path d="M516.2 734.5 A27.5 9.2 0 0 1 571.2 734.5" fill="none" stroke="#111" stroke-width="0.8"/>
<path d="M543.6 716 L543.6 742" fill="none" stroke="#111" stroke-width="1.0" stroke-dasharray="6 3"/>
<rect x="684.75" y="662.05" width="47.8" height="49.6" fill="none" stroke="#f00" stroke-width="5.5"/>
<path d="M613 213.5 L613 251.1M613 213.5 L606.3 220.3M606.3 251.1 L619.8 251.1" fill="none" stroke="#474747" stroke-width="1.15" stroke-linejoin="round"/>
<path d="M607.3 267.2 L612 261.1 L626 261.1 L632.7 268 L632.7 272.8 L626 280.1 L612 280.1 L607.3 285.7 L607.3 299.7 L632.7 299.7" fill="none" stroke="#474747" stroke-width="1.15" stroke-linejoin="round"/>
<path d="M612.1 317.1 L617.9 310.3 L631.9 310.3 L638.5 317.1 L638.5 324.6 L631.9 329.9 L624.8 329.9M631.9 329.9 L638.5 336.2 L638.5 341.5 L631.9 347.9 L617.9 347.9 L612.1 341.5" fill="none" stroke="#474747" stroke-width="1.15" stroke-linejoin="round"/>
<path d="M705.7 331.1 L688.1 356.1 L712.2 356.1M705.7 331.1 L705.7 368.1" fill="none" stroke="#474747" stroke-width="1.15" stroke-linejoin="round"/>
<path d="M639.7 492.6 L614 492.6 L614 504.6 L633.3 504.6 L638.9 511.7 L638.9 522.9 L633.3 530 L618.9 530 L614 523.6" fill="none" stroke="#474747" stroke-width="1.15" stroke-linejoin="round"/>
<path d="M634.5 533.5 L627.5 533.5 L616 545.7 L616 566.6 L620.6 571.5 L635.4 571.5 L640 566.6 L640 559 L634.5 552.5 L616 552.5" fill="none" stroke="#474747" stroke-width="1.15" stroke-linejoin="round"/>
<path d="M616 584.6 L640.5 584.6 L621.9 622.2" fill="none" stroke="#474747" stroke-width="1.15" stroke-linejoin="round"/>
<path d="M620.5 638.4 L633.5 638.4 L640 643.3 L640 652.4 L633.5 657.3 L620.5 657.3 L614 652.4 L614 643.3 L620.5 638.4M620.5 657.3 L614 662.2 L614 671.3 L620.5 676.2 L633.5 676.2 L640 671.3 L640 662.2 L633.5 657.3" fill="none" stroke="#474747" stroke-width="1.15" stroke-linejoin="round"/>
<path d="M723.5 688.8 L702.9 688.8 L696.7 683.1 L696.7 675.5 L702.9 670.2 L717.1 670.2 L723.5 676.6 L723.5 694.9 L710.6 707.8 L703.1 707.8" fill="none" stroke="#474747" stroke-width="1.15" stroke-linejoin="round"/>
<path d="M603.4 237 L570.3 254.3 M551.7 264 L568.4 250.6 L572.3 258 Z" fill="#fff" stroke="#474747" stroke-width="1.0" stroke-linejoin="miter"/>
<path d="M607.7 276.5 L569.5 298.7 M551.4 309.3 L567.4 295.1 L571.7 302.4 Z" fill="#fff" stroke="#474747" stroke-width="1.0" stroke-linejoin="miter"/>
<path d="M613.1 320 L581.7 333.7 M562.5 342.1 L580.1 329.8 L583.4 337.5 Z" fill="#fff" stroke="#474747" stroke-width="1.0" stroke-linejoin="miter"/>
<path d="M688 351.5 L658.3 375.4 M641.9 388.5 L655.6 372.1 L660.9 378.6 Z" fill="#fff" stroke="#474747" stroke-width="1.0" stroke-linejoin="miter"/>
<path d="M612.9 522.6 L577.5 537.9 M558.2 546.2 L575.8 534 L579.1 541.7 Z" fill="#fff" stroke="#474747" stroke-width="1.0" stroke-linejoin="miter"/>
<path d="M615 557 L587.7 566.1 M567.8 572.8 L586.4 562.2 L589 570.1 Z" fill="#fff" stroke="#474747" stroke-width="1.0" stroke-linejoin="miter"/>
<path d="M613.1 593.6 L586.8 601.8 M566.8 608.1 L585.6 597.8 L588.1 605.8 Z" fill="#fff" stroke="#474747" stroke-width="1.0" stroke-linejoin="miter"/>
<path d="M613.1 593.6 L581.3 626.7 M566.8 641.9 L578.3 623.8 L584.4 629.6 Z" fill="#fff" stroke="#474747" stroke-width="1.0" stroke-linejoin="miter"/>
<path d="M606.3 660.2 L571.5 684.7 M554.3 696.8 L569.1 681.3 L573.9 688.1 Z" fill="#fff" stroke="#474747" stroke-width="1.0" stroke-linejoin="miter"/>
<path d="M699.5 698 L660.4 731.7 M644.5 745.4 L657.7 728.5 L663.1 734.9 Z" fill="#fff" stroke="#474747" stroke-width="1.0" stroke-linejoin="miter"/>
<path d="M875.8 245 V282" stroke="#111" stroke-width="1.0" stroke-dasharray="6 3.5"/>
<path d="M947.4 220 V263" stroke="#111" stroke-width="1.0" stroke-dasharray="6 3.5"/>
<path d="M960.6 251 V300" stroke="#111" stroke-width="1.0" stroke-dasharray="6 3.5"/>
<path d="M993.5 245 V303" stroke="#111" stroke-width="1.0" stroke-dasharray="6 3.5"/>
<path d="M863.5 284.6 L892.4 276.8 L990.4 278.2 L1008.8 290.2 L1008.8 292.3 L977.8 300.8 L938.2 304.3 L864.9 288.1Z" fill="#fff" stroke="#111" stroke-width="1.1" stroke-linejoin="round"/>
<path d="M864.5 287 L892 294 L938 303 L977 299.5 L1008 291" fill="none" stroke="#111" stroke-width="0.8" />
<ellipse cx="872" cy="285.5" rx="3.5" ry="1.3" fill="none" stroke="#111" stroke-width="1.0" />
<ellipse cx="1000" cy="291" rx="4" ry="1.8" fill="none" stroke="#111" stroke-width="1.0" />
<path d="M892 276.8 L892 281.8 A49.6 14.8 0 0 0 991.2 281.8 L991.2 276.8 A49.6 14.8 0 0 0 892 276.8 Z" fill="#fff" stroke="#111" stroke-width="1.3"/>
<ellipse cx="941.6" cy="276.8" rx="49.6" ry="14.8" fill="#fff" stroke="#111" stroke-width="1.3" />
<ellipse cx="941.6" cy="276.1" rx="45" ry="12.5" fill="none" stroke="#111" stroke-width="1.0" />
<ellipse cx="940.3" cy="276.1" rx="40.2" ry="9.3" fill="none" stroke="#111" stroke-width="1.4" />
<ellipse cx="940.7" cy="278.2" rx="37" ry="7" fill="none" stroke="#111" stroke-width="1.0" />
<path d="M960 296 L975 289 L990 290 L992 297 L975 303 L962 302Z" fill="#fff" stroke="#111" stroke-width="1.0" stroke-linejoin="round"/>
<path d="M945 266 H960 M910 272 H925" stroke="#111" stroke-width="2.2"/>
<path d="M960.6 280 V300" stroke="#111" stroke-width="1.0" stroke-dasharray="6 3.5"/>
<path d="M993.5 280 V303" stroke="#111" stroke-width="1.0" stroke-dasharray="6 3.5"/>
<path d="M870.4 234.7 L870.4 240.6 L869.4 240.8 L869.4 243.4 A6.6 2 0 0 0 882.6 243.4 L882.6 240.8 L881.6 240.6 L881.6 234.7 Z" fill="#fff" stroke="#111" stroke-width="1.1"/>
<path d="M869.4 240.8 L873.1 242.1 L878.9 242.1 L882.6 240.8" fill="none" stroke="#111" stroke-width="0.9" />
<path d="M873.1 242.1 L873.1 244.4" fill="none" stroke="#111" stroke-width="0.8" />
<path d="M878.9 242.1 L878.9 244.4" fill="none" stroke="#111" stroke-width="0.8" />
<ellipse cx="876" cy="234.7" rx="5.6" ry="2" fill="#fff" stroke="#111" stroke-width="1.1" />
<ellipse cx="876" cy="234.7" rx="4.6" ry="1.6" fill="#111"/>
<path d="M941.2 208.8 L941.2 215.2 L940.2 215.5 L940.2 218.3 A7.3 2.2 0 0 0 954.8 218.3 L954.8 215.5 L953.8 215.2 L953.8 208.8 Z" fill="#fff" stroke="#111" stroke-width="1.1"/>
<path d="M940.2 215.5 L944.3 216.9 L950.7 216.9 L954.8 215.5" fill="none" stroke="#111" stroke-width="0.9" />
<path d="M944.3 216.9 L944.3 219.5" fill="none" stroke="#111" stroke-width="0.8" />
<path d="M950.7 216.9 L950.7 219.5" fill="none" stroke="#111" stroke-width="0.8" />
<ellipse cx="947.5" cy="208.8" rx="6.3" ry="2.2" fill="#fff" stroke="#111" stroke-width="1.1" />
<ellipse cx="947.5" cy="208.8" rx="5.3" ry="1.8" fill="#111"/>
<path d="M954.2 239.4 L954.2 245.9 L953.2 246.2 L953.2 249 A6.8 2.2 0 0 0 966.8 249 L966.8 246.2 L965.8 245.9 L965.8 239.4 Z" fill="#fff" stroke="#111" stroke-width="1.1"/>
<path d="M953.2 246.2 L957 247.6 L963 247.6 L966.8 246.2" fill="none" stroke="#111" stroke-width="0.9" />
<path d="M957 247.6 L957 250.2" fill="none" stroke="#111" stroke-width="0.8" />
<path d="M963 247.6 L963 250.2" fill="none" stroke="#111" stroke-width="0.8" />
<ellipse cx="960" cy="239.4" rx="5.8" ry="2.2" fill="#fff" stroke="#111" stroke-width="1.1" />
<ellipse cx="960" cy="239.4" rx="3.4" ry="1.2" fill="none" stroke="#111" stroke-width="1.4" />
<path d="M986.8 234 L986.8 240.2 L985.8 240.5 L985.8 243.2 A7 2.2 0 0 0 999.8 243.2 L999.8 240.5 L998.8 240.2 L998.8 234 Z" fill="#fff" stroke="#111" stroke-width="1.1"/>
<path d="M985.8 240.5 L989.7 241.9 L995.9 241.9 L999.8 240.5" fill="none" stroke="#111" stroke-width="0.9" />
<path d="M989.7 241.9 L989.7 244.4" fill="none" stroke="#111" stroke-width="0.8" />
<path d="M995.9 241.9 L995.9 244.4" fill="none" stroke="#111" stroke-width="0.8" />
<ellipse cx="992.8" cy="234" rx="6" ry="2.2" fill="#fff" stroke="#111" stroke-width="1.1" />
<ellipse cx="992.8" cy="234" rx="5" ry="1.7" fill="#111"/>
<path d="M894.7 327.4 L894.7 345.9 A47.3 12.3 0 0 0 989.3 345.9 L989.3 327.4 A47.3 12.3 0 0 0 894.7 327.4 Z" fill="#fff" stroke="#111" stroke-width="1.4"/>
<ellipse cx="942" cy="327.4" rx="47.3" ry="12.3" fill="#fff" stroke="#111" stroke-width="1.4" />
<ellipse cx="942" cy="327.4" rx="43" ry="10.5" fill="none" stroke="#111" stroke-width="1.0" />
<ellipse cx="942" cy="327.6" rx="36" ry="8.3" fill="none" stroke="#111" stroke-width="1.6" />
<ellipse cx="942" cy="327.8" rx="31" ry="7" fill="none" stroke="#111" stroke-width="1.0" />
<ellipse cx="942" cy="327.8" rx="26" ry="6.2" fill="none" stroke="#111" stroke-width="1.2" />
<path d="M894.7 330 A47.3 12.3 0 0 0 989.3 330" fill="none" stroke="#111" stroke-width="0.8"/>
<path d="M894.3 390 L894.3 396 Q905 408 940 409.6 Q980 409 991.8 403 L993 390 Z" fill="#fff" stroke="#111" stroke-width="1.2"/>
<path d="M866.6 388.5 L865.9 384.1 L948.1 365.9 L996.9 382.6 L1010 390 L1010 393.6 L991.8 403 L894.3 395.7Z" fill="#fff" stroke="#111" stroke-width="1.1" stroke-linejoin="round"/>
<path d="M866.6 388.5 L868 386.5 L948.1 368.5 L995 384.5 L1008 391.5" fill="none" stroke="#111" stroke-width="0.7" />
<ellipse cx="943" cy="387" rx="49.5" ry="11.6" fill="none" stroke="#111" stroke-width="1.1" />
<ellipse cx="943" cy="387.6" rx="44" ry="8.5" fill="none" stroke="#111" stroke-width="1.0" />
<ellipse cx="942.3" cy="391" rx="37.8" ry="7.6" fill="none" stroke="#111" stroke-width="1.3" />
<ellipse cx="948" cy="368.8" rx="3" ry="1.1" fill="none" stroke="#111" stroke-width="1.0" />
<ellipse cx="874.5" cy="385.5" rx="3.2" ry="1.2" fill="none" stroke="#111" stroke-width="1.0" />
<ellipse cx="1001" cy="391.8" rx="3.8" ry="1.4" fill="none" stroke="#111" stroke-width="1.0" />
<path d="M980 394 L992 391 L1000 395 L993 402 L982 404Z" fill="#fff" stroke="#111" stroke-width="1.0" stroke-linejoin="round"/>
<path d="M962 401 L990 396" fill="none" stroke="#111" stroke-width="0.9" />
<path d="M958 400 h6 v-2 h-6z" fill="#111"/>
<rect x="872.3" y="399.9" width="7.8" height="16.6" rx="1.2" fill="#111"/>
<path d="M866.5 416.4 L866.5 418.6 L868.3 419.2 L868.3 422.3 A7.4 1.9 0 0 0 883.1 422.3 L883.1 419.2 L884.9 418.6 L884.9 416.4 Z" fill="#fff" stroke="#111" stroke-width="1.1"/>
<ellipse cx="875.7" cy="416.4" rx="9.2" ry="1.9" fill="#fff" stroke="#111" stroke-width="1.1" />
<path d="M872.3 416.4 Q875.7 418.9 880.1 416.4 L880.1 414.5 L872.3 414.5Z" fill="#111"/>
<path d="M872.9 419.4 L872.9 423.2" fill="none" stroke="#111" stroke-width="0.8" />
<path d="M878.5 419.4 L878.5 423.2" fill="none" stroke="#111" stroke-width="0.8" />
<rect x="944.5" y="412.5" width="8.3" height="16.6" rx="1.2" fill="#111"/>
<path d="M939.6 429 L939.6 431.2 L941.4 431.8 L941.4 434.9 A7 1.9 0 0 0 955.4 434.9 L955.4 431.8 L957.1 431.2 L957.1 429 Z" fill="#fff" stroke="#111" stroke-width="1.1"/>
<ellipse cx="948.4" cy="429" rx="8.8" ry="1.9" fill="#fff" stroke="#111" stroke-width="1.1" />
<path d="M944.5 429 Q948.4 431.5 952.8 429 L952.8 427.1 L944.5 427.1Z" fill="#111"/>
<path d="M945.7 432 L945.7 435.8" fill="none" stroke="#111" stroke-width="0.8" />
<path d="M951 432 L951 435.8" fill="none" stroke="#111" stroke-width="0.8" />
<rect x="959.2" y="423.2" width="8.2" height="16.9" rx="1.2" fill="#111"/>
<path d="M954.8 440 L954.8 442 L956.5 442.6 L956.5 445.5 A7 1.9 0 0 0 970.5 445.5 L970.5 442.6 L972.2 442 L972.2 440 Z" fill="#fff" stroke="#111" stroke-width="1.1"/>
<ellipse cx="963.5" cy="440" rx="8.7" ry="1.9" fill="#fff" stroke="#111" stroke-width="1.1" />
<path d="M959.2 440 Q963.5 442.5 967.4 440 L967.4 438.1 L959.2 438.1Z" fill="#111"/>
<path d="M960.9 442.8 L960.9 446.4" fill="none" stroke="#111" stroke-width="0.8" />
<path d="M966.1 442.8 L966.1 446.4" fill="none" stroke="#111" stroke-width="0.8" />
<rect x="990" y="421.8" width="8.4" height="17" rx="1.2" fill="#111"/>
<path d="M985.8 438.6 L985.8 440.6 L987.5 441.2 L987.5 444.1 A7 1.8 0 0 0 1001.5 444.1 L1001.5 441.2 L1003.2 440.6 L1003.2 438.6 Z" fill="#fff" stroke="#111" stroke-width="1.1"/>
<ellipse cx="994.5" cy="438.6" rx="8.7" ry="1.8" fill="#fff" stroke="#111" stroke-width="1.1" />
<path d="M990 438.6 Q994.5 441.1 998.4 438.6 L998.4 436.8 L990 436.8Z" fill="#111"/>
<path d="M991.9 441.4 L991.9 444.9" fill="none" stroke="#111" stroke-width="0.8" />
<path d="M997.1 441.4 L997.1 444.9" fill="none" stroke="#111" stroke-width="0.8" />
<path d="M876.2 391 L876.2 398" fill="none" stroke="#111" stroke-width="0.9" />
<path d="M948.6 405 L948.6 411" fill="none" stroke="#111" stroke-width="0.9" />
<path d="M963 412 L963 422" fill="none" stroke="#111" stroke-width="0.9" />
<path d="M994 410 L994 420" fill="none" stroke="#111" stroke-width="0.9" />
<path d="M913.5 462.6 V464.5 A30.1 9.3 0 0 0 973.7 464.5 V462.6 Z" fill="#fff" stroke="#111" stroke-width="1.1"/>
<ellipse cx="943.6" cy="462.6" rx="30.1" ry="9.3" fill="#fff" stroke="#111" stroke-width="1.3" />
<ellipse cx="943.6" cy="461.8" rx="26.5" ry="7.2" fill="none" stroke="#111" stroke-width="1.1" />
<path d="M913.5 464 A30.1 9.3 0 0 0 973.7 464" fill="none" stroke="#111" stroke-width="1.6"/>
<path d="M923 455 L926 452 L933 452.5 L934 455 M937 454 L938 451.5 L952 451.5 L955 454" fill="#fff" stroke="#111" stroke-width="1.0"/>
<path d="M886.2 521 V572" stroke="#111" stroke-width="1.0" stroke-dasharray="6 3.5"/>
<path d="M909.5 526 V570" stroke="#111" stroke-width="1.0" stroke-dasharray="6 3.5"/>
<path d="M928.3 501 V553" stroke="#111" stroke-width="1.0" stroke-dasharray="6 3.5"/>
<path d="M967.1 537 V560" stroke="#111" stroke-width="1.0" stroke-dasharray="6 3.5"/>
<path d="M985 504.5 V570" stroke="#111" stroke-width="1.0" stroke-dasharray="6 3.5"/>
<path d="M1004.8 534 V560" stroke="#111" stroke-width="1.0" stroke-dasharray="6 3.5"/>
<path d="M855.9 565 L856.5 571 A89.4 21.5 0 0 0 1034.1 571 L1034.7 565 Z" fill="#fff" stroke="#111" stroke-width="1.2"/>
<path d="M855.9 568 A89.4 21.5 0 0 0 1034.7 568" fill="none" stroke="#111" stroke-width="0.9"/>
<ellipse cx="945.3" cy="565" rx="89.4" ry="21.5" fill="#fff" stroke="#111" stroke-width="1.3" />
<ellipse cx="945.3" cy="565" rx="86" ry="19.5" fill="none" stroke="#111" stroke-width="0.9" />
<ellipse cx="945.3" cy="567" rx="75" ry="16" fill="none" stroke="#111" stroke-width="1.1" />
<ellipse cx="945.3" cy="568" rx="70" ry="14" fill="none" stroke="#111" stroke-width="0.8" />
<path d="M902.7 571 L902.7 575 A42.3 10.7 0 0 0 987.3 575 L987.3 571 Z" fill="#fff" stroke="#111" stroke-width="1.1"/>
<ellipse cx="945" cy="571" rx="42.3" ry="10.7" fill="#fff" stroke="#111" stroke-width="1.2" />
<path d="M908.8 557.5 L908.8 567.6 A35.7 7.7 0 0 0 980.2 567.6 L980.2 557.5 Z" fill="#fff" stroke="#111" stroke-width="1.2"/>
<ellipse cx="944.5" cy="557.5" rx="35.7" ry="7.7" fill="#fff" stroke="#111" stroke-width="1.3" />
<ellipse cx="944.5" cy="558.5" rx="31" ry="6" fill="#fff" stroke="#111" stroke-width="1.0" />
<path d="M918 553.5 L918 560.5" fill="none" stroke="#111" stroke-width="0.9" />
<path d="M926 553.5 L926 560.5" fill="none" stroke="#111" stroke-width="0.9" />
<path d="M934 553.5 L934 560.5" fill="none" stroke="#111" stroke-width="0.9" />
<path d="M942 553.5 L942 560.5" fill="none" stroke="#111" stroke-width="0.9" />
<path d="M950 553.5 L950 560.5" fill="none" stroke="#111" stroke-width="0.9" />
<path d="M958 553.5 L958 560.5" fill="none" stroke="#111" stroke-width="0.9" />
<path d="M966 553.5 L966 560.5" fill="none" stroke="#111" stroke-width="0.9" />
<path d="M973 553.5 L973 560.5" fill="none" stroke="#111" stroke-width="0.9" />
<path d="M916 561 Q944.5 567 973 561 L973 558 Q944.5 564 916 558 Z" fill="#333"/>
<path d="M915 564 L915 573" fill="none" stroke="#111" stroke-width="0.8" />
<path d="M925 564 L925 573" fill="none" stroke="#111" stroke-width="0.8" />
<path d="M964 564 L964 573" fill="none" stroke="#111" stroke-width="0.8" />
<path d="M974 564 L974 573" fill="none" stroke="#111" stroke-width="0.8" />
<path d="M928 562 h33 v4 h-33z" fill="#fff" stroke="#111" stroke-width="0.9"/>
<ellipse cx="886.2" cy="572" rx="4.5" ry="1.5" fill="none" stroke="#111" stroke-width="1.0" />
<ellipse cx="1004.8" cy="569" rx="5" ry="2" fill="none" stroke="#111" stroke-width="1.0" />
<path d="M995 573 h14 v4 h-14z" fill="#fff" stroke="#111" stroke-width="1"/>
<rect x="881" y="506.1" width="10" height="15.1" rx="1.5" fill="#111"/>
<path d="M878 498.3 L878 503.6 L875.5 504.8 L877.6 508.1 L894.1 508.1 L896.2 504.8 L893.7 503.6 L893.7 498.3 Z" fill="#fff" stroke="#111" stroke-width="1.1"/>
<path d="M878 498.3 L881.7 496.2 L890 496.2 L893.7 498.3 L890 500.5 L881.7 500.5 Z" fill="#fff" stroke="#111" stroke-width="1.1"/>
<path d="M885.9 500.5 L885.9 503.6" fill="none" stroke="#111" stroke-width="0.8" />
<path d="M875.5 504.8 L896.2 504.8" fill="none" stroke="#111" stroke-width="0.9" />
<path d="M881 508.1 L891 508.1 L891 506.6 L881 506.6Z" fill="#111"/>
<path d="M902 513.4 L902 520.3 L901 520.6 L901 523.6 A8.3 2.4 0 0 0 917.6 523.6 L917.6 520.6 L916.6 520.3 L916.6 513.4 Z" fill="#fff" stroke="#111" stroke-width="1.1"/>
<path d="M901 520.6 L905.6 522.1 L913 522.1 L917.6 520.6" fill="none" stroke="#111" stroke-width="0.9" />
<path d="M905.6 522.1 L905.6 525" fill="none" stroke="#111" stroke-width="0.8" />
<path d="M913 522.1 L913 525" fill="none" stroke="#111" stroke-width="0.8" />
<ellipse cx="909.3" cy="513.4" rx="7.3" ry="2.4" fill="#fff" stroke="#111" stroke-width="1.1" />
<ellipse cx="909.3" cy="513.4" rx="4.2" ry="1.3" fill="none" stroke="#111" stroke-width="1.4" />
<path d="M921 489 L921 495.6 L920 495.9 L920 498.7 A8.7 2.3 0 0 0 937.4 498.7 L937.4 495.9 L936.4 495.6 L936.4 489 Z" fill="#fff" stroke="#111" stroke-width="1.1"/>
<path d="M920 495.9 L924.9 497.3 L932.5 497.3 L937.4 495.9" fill="none" stroke="#111" stroke-width="0.9" />
<path d="M924.9 497.3 L924.9 500" fill="none" stroke="#111" stroke-width="0.8" />
<path d="M932.5 497.3 L932.5 500" fill="none" stroke="#111" stroke-width="0.8" />
<ellipse cx="928.7" cy="489" rx="7.7" ry="2.3" fill="#fff" stroke="#111" stroke-width="1.1" />
<ellipse cx="928.7" cy="489" rx="4.3" ry="1.3" fill="none" stroke="#111" stroke-width="1.4" />
<rect x="962.4" y="520.4" width="9.5" height="16.3" rx="1.5" fill="#111"/>
<path d="M959 512.2 L959 517.7 L956.4 518.9 L958.5 522.4 L975.8 522.4 L977.9 518.9 L975.3 517.7 L975.3 512.2 Z" fill="#fff" stroke="#111" stroke-width="1.1"/>
<path d="M959 512.2 L962.9 510 L971.4 510 L975.3 512.2 L971.4 514.5 L962.9 514.5 Z" fill="#fff" stroke="#111" stroke-width="1.1"/>
<path d="M967.1 514.5 L967.1 517.7" fill="none" stroke="#111" stroke-width="0.8" />
<path d="M956.4 518.9 L977.9 518.9" fill="none" stroke="#111" stroke-width="0.9" />
<path d="M962.4 522.4 L971.9 522.4 L971.9 520.9 L962.4 520.9Z" fill="#111"/>
<rect x="980.2" y="489.4" width="9.6" height="15.1" rx="1.5" fill="#111"/>
<path d="M976.9 481.2 L976.9 486.7 L974.3 487.9 L976.4 491.4 L993.6 491.4 L995.7 487.9 L993.1 486.7 L993.1 481.2 Z" fill="#fff" stroke="#111" stroke-width="1.1"/>
<path d="M976.9 481.2 L980.7 479 L989.3 479 L993.1 481.2 L989.3 483.5 L980.7 483.5 Z" fill="#fff" stroke="#111" stroke-width="1.1"/>
<path d="M985 483.5 L985 486.7" fill="none" stroke="#111" stroke-width="0.8" />
<path d="M974.3 487.9 L995.7 487.9" fill="none" stroke="#111" stroke-width="0.9" />
<path d="M980.2 491.4 L989.8 491.4 L989.8 489.9 L980.2 489.9Z" fill="#111"/>
<path d="M997.9 521.3 L997.9 528.4 L996.9 528.7 L996.9 531.8 A7.8 2.5 0 0 0 1012.4 531.8 L1012.4 528.7 L1011.4 528.4 L1011.4 521.3 Z" fill="#fff" stroke="#111" stroke-width="1.1"/>
<path d="M996.9 528.7 L1001.2 530.3 L1008.1 530.3 L1012.4 528.7" fill="none" stroke="#111" stroke-width="0.9" />
<path d="M1001.2 530.3 L1001.2 533.3" fill="none" stroke="#111" stroke-width="0.8" />
<path d="M1008.1 530.3 L1008.1 533.3" fill="none" stroke="#111" stroke-width="0.8" />
<ellipse cx="1004.6" cy="521.3" rx="6.8" ry="2.5" fill="#fff" stroke="#111" stroke-width="1.1" />
<ellipse cx="1004.6" cy="521.3" rx="3.9" ry="1.4" fill="none" stroke="#111" stroke-width="1.4" />
<path d="M914.6 679 V695 Q946.7 703 978.8 695 V679 Z" fill="#fff" stroke="#111" stroke-width="1.3"/>
<path d="M926.5 684 L926.5 697.4" fill="none" stroke="#111" stroke-width="1.0" />
<path d="M940.5 684 L940.5 698.9" fill="none" stroke="#111" stroke-width="1.0" />
<path d="M956.3 684 L956.3 698.6" fill="none" stroke="#111" stroke-width="1.0" />
<path d="M972 684 L972 696.5" fill="none" stroke="#111" stroke-width="1.0" />
<path d="M908.4 668 V678.5 Q946.4 690 984.4 678.5 V668 Z" fill="#fff" stroke="#111" stroke-width="1.3"/>
<path d="M908.4 668 A38 5.5 0 0 0 984.4 668" fill="none" stroke="#111" stroke-width="1.2"/>
<path d="M915.2 644 V668 Q946.5 677 977.7 668 V644 Z" fill="#fff" stroke="#111" stroke-width="1.3"/>
<path d="M925.3 649 L925.3 673.5" fill="none" stroke="#111" stroke-width="1.1" />
<path d="M940 649 L940 673.5" fill="none" stroke="#111" stroke-width="1.1" />
<path d="M956.8 649 L956.8 673.5" fill="none" stroke="#111" stroke-width="1.1" />
<path d="M969.8 649 L969.8 673.5" fill="none" stroke="#111" stroke-width="1.1" />
<path d="M915.2 644 A31.2 5.5 0 0 1 977.8 644" fill="none" stroke="#111" stroke-width="1.2"/>
<path d="M919.7 617 V644 Q946.7 652 973.7 644 V617 Z" fill="#111"/>
<path d="M924 623 L924 646.5" fill="none" stroke="#ddd" stroke-width="0.7" />
<path d="M928.5 623 L928.5 646.5" fill="none" stroke="#ddd" stroke-width="0.7" />
<path d="M933.5 623 L933.5 646.5" fill="none" stroke="#ddd" stroke-width="0.7" />
<path d="M938 623 L938 646.5" fill="none" stroke="#ddd" stroke-width="0.7" />
<path d="M942.5 623 L942.5 646.5" fill="none" stroke="#ddd" stroke-width="0.7" />
<path d="M946.5 623 L946.5 646.5" fill="none" stroke="#ddd" stroke-width="0.7" />
<path d="M951 623 L951 646.5" fill="none" stroke="#ddd" stroke-width="0.7" />
<path d="M955.5 623 L955.5 646.5" fill="none" stroke="#ddd" stroke-width="0.7" />
<path d="M960 623 L960 646.5" fill="none" stroke="#ddd" stroke-width="0.7" />
<path d="M964.5 623 L964.5 646.5" fill="none" stroke="#ddd" stroke-width="0.7" />
<path d="M969 623 L969 646.5" fill="none" stroke="#ddd" stroke-width="0.7" />
<path d="M919.7 612 V619 Q946 628 972.2 619 V612 Z" fill="#fff" stroke="#111" stroke-width="1.3"/>
<path d="M921 621 Q946 629 972 621" fill="none" stroke="#111" stroke-width="2.4" stroke-dasharray="2 1.2"/>
<ellipse cx="945.9" cy="612" rx="26.2" ry="5" fill="#fff" stroke="#111" stroke-width="1.4" />
<path d="M934.9 608 H954 V618.5 H934.9 Z" fill="#fff" stroke="#111" stroke-width="1.1"/>
<path d="M936.5 608 L936.5 618.5" fill="none" stroke="#111" stroke-width="0.8" />
<path d="M952.5 608 L952.5 618.5" fill="none" stroke="#111" stroke-width="0.8" />
<path d="M925 612 L931 609.5 L931 614.5 Z M966 612 L960 609.5 L960 614.5 Z" fill="#fff" stroke="#111" stroke-width="0.9"/>
<path d="M852.1 733.5 V746 A95.85 25.4 0 0 0 1043.8 746 V733.5 Z" fill="#fff" stroke="#111" stroke-width="1.2"/>
<path d="M852.1 740 A95.8 25.4 0 0 0 1043.8 740" fill="none" stroke="#111" stroke-width="0.8"/>
<ellipse cx="948" cy="733.5" rx="95.8" ry="25.4" fill="#fff" stroke="#111" stroke-width="1.3" />
<ellipse cx="947.6" cy="732.5" rx="89" ry="19.9" fill="none" stroke="#111" stroke-width="1.7" />
<ellipse cx="948.1" cy="732.5" rx="83.2" ry="16.3" fill="none" stroke="#111" stroke-width="0.9" />
<ellipse cx="948.5" cy="736.2" rx="76.4" ry="15.3" fill="none" stroke="#111" stroke-width="1.0" />
<ellipse cx="949" cy="741.5" rx="72.4" ry="12.6" fill="none" stroke="#111" stroke-width="1.5"/>
<path d="M872.1 737.5 A76.4 15.3 0 0 0 1024.9 737.5" fill="none" stroke="#111" stroke-width="0.8"/>
<path d="M859.4 810.7 V813 A88.9 22 0 0 0 1037.2 813 V810.7 Z" fill="#fff" stroke="#111" stroke-width="1.2"/>
<ellipse cx="948.3" cy="810.7" rx="88.9" ry="22" fill="#fff" stroke="#111" stroke-width="1.3" />
<ellipse cx="948.3" cy="810.7" rx="85" ry="19.5" fill="none" stroke="#111" stroke-width="0.8" />
<path d="M873.8 800.5 V807 A72.2 16.7 0 0 0 1018.2 807 V800.5 Z" fill="#fff" stroke="#111" stroke-width="1.2"/>
<path d="M873.8 803.5 A72.2 16.7 0 0 0 1018.2 803.5" fill="none" stroke="#111" stroke-width="0.8"/>
<ellipse cx="946" cy="800.5" rx="72.2" ry="16.7" fill="#fff" stroke="#111" stroke-width="1.2" />
<ellipse cx="948" cy="802.5" rx="42.4" ry="10.6" fill="#fff" stroke="#111" stroke-width="1.3" />
<ellipse cx="948" cy="803.5" rx="37.5" ry="8.6" fill="none" stroke="#111" stroke-width="2.6" />
<ellipse cx="948" cy="805" rx="30" ry="6.8" fill="#fff" stroke="#111" stroke-width="1.2" />
<path d="M923.5 806 L928 801 H968 L972.5 806 V812.3 H923.5 Z" fill="#fff" stroke="#111" stroke-width="1.1"/>
<path d="M935 801 L935 812" fill="none" stroke="#111" stroke-width="0.9" />
<path d="M937 801 L937 812" fill="none" stroke="#111" stroke-width="0.9" />
<path d="M945 801 L945 812" fill="none" stroke="#111" stroke-width="0.9" />
<path d="M951 801 L951 812" fill="none" stroke="#111" stroke-width="0.9" />
<path d="M960 801 L960 812" fill="none" stroke="#111" stroke-width="0.9" />
<path d="M962 801 L962 812" fill="none" stroke="#111" stroke-width="0.9" />
<ellipse cx="928.4" cy="786.2" rx="3.5" ry="1.3" fill="none" stroke="#111" stroke-width="1.0" />
<ellipse cx="988" cy="789.4" rx="3.5" ry="1.3" fill="none" stroke="#111" stroke-width="1.0" />
<ellipse cx="887.6" cy="799.2" rx="3.5" ry="1.3" fill="none" stroke="#111" stroke-width="1.0" />
<ellipse cx="1005.9" cy="804.1" rx="3.5" ry="1.3" fill="none" stroke="#111" stroke-width="1.0" />
<ellipse cx="908.8" cy="812" rx="3.5" ry="1.3" fill="none" stroke="#111" stroke-width="1.0" />
<ellipse cx="967.6" cy="814" rx="3.5" ry="1.3" fill="none" stroke="#111" stroke-width="1.0" />
<path d="M886 829 V835" stroke="#111" stroke-width="1.0" stroke-dasharray="6 3.5"/>
<path d="M908.3 831 V850" stroke="#111" stroke-width="1.0" stroke-dasharray="6 3.5"/>
<path d="M929 832 V838" stroke="#111" stroke-width="1.0" stroke-dasharray="6 3.5"/>
<path d="M967.4 832 V849" stroke="#111" stroke-width="1.0" stroke-dasharray="6 3.5"/>
<path d="M988.4 830 V839" stroke="#111" stroke-width="1.0" stroke-dasharray="6 3.5"/>
<path d="M1008.4 828 V852" stroke="#111" stroke-width="1.0" stroke-dasharray="6 3.5"/>
<path d="M878.9 838.9 L878.9 845.1 L877.9 845.3 L877.9 848 A8.1 2.2 0 0 0 894 848 L894 845.3 L893 845.1 L893 838.9 Z" fill="#fff" stroke="#111" stroke-width="1.1"/>
<path d="M877.9 845.3 L882.4 846.7 L889.5 846.7 L894 845.3" fill="none" stroke="#111" stroke-width="0.9" />
<path d="M882.4 846.7 L882.4 849.2" fill="none" stroke="#111" stroke-width="0.8" />
<path d="M889.5 846.7 L889.5 849.2" fill="none" stroke="#111" stroke-width="0.8" />
<ellipse cx="886" cy="838.9" rx="7.1" ry="2.2" fill="#fff" stroke="#111" stroke-width="1.1" />
<ellipse cx="886" cy="838.9" rx="6.1" ry="1.7" fill="#111"/>
<rect x="903.3" y="851.5" width="9.9" height="15.5" rx="1.2" fill="#111"/>
<path d="M897.7 867.2 L897.7 869.7 L899.7 870.4 L899.7 874 A8.2 2.2 0 0 0 916.1 874 L916.1 870.4 L918.1 869.7 L918.1 867.2 Z" fill="#fff" stroke="#111" stroke-width="1.1"/>
<ellipse cx="907.9" cy="867.2" rx="10.2" ry="2.2" fill="#fff" stroke="#111" stroke-width="1.1" />
<path d="M903.3 867.2 Q907.9 869.7 913.2 867.2 L913.2 865 L903.3 865Z" fill="#111"/>
<path d="M904.8 870.6 L904.8 875.2" fill="none" stroke="#111" stroke-width="0.8" />
<path d="M911 870.6 L911 875.2" fill="none" stroke="#111" stroke-width="0.8" />
<rect x="924.1" y="837.9" width="9.9" height="15.6" rx="1.2" fill="#111"/>
<path d="M918.6 853.7 L918.6 856.2 L920.7 856.8 L920.7 860.4 A8.4 2.2 0 0 0 937.5 860.4 L937.5 856.8 L939.6 856.2 L939.6 853.7 Z" fill="#fff" stroke="#111" stroke-width="1.1"/>
<ellipse cx="929.1" cy="853.7" rx="10.5" ry="2.2" fill="#fff" stroke="#111" stroke-width="1.1" />
<path d="M924.1 853.7 Q929.1 856.2 934 853.7 L934 851.5 L924.1 851.5Z" fill="#111"/>
<path d="M926 857 L926 861.6" fill="none" stroke="#111" stroke-width="0.8" />
<path d="M932.2 857 L932.2 861.6" fill="none" stroke="#111" stroke-width="0.8" />
<path d="M960.4 851.2 L960.4 857.4 L959.4 857.7 L959.4 860.4 A8 2.2 0 0 0 975.4 860.4 L975.4 857.7 L974.4 857.4 L974.4 851.2 Z" fill="#fff" stroke="#111" stroke-width="1.1"/>
<path d="M959.4 857.7 L963.9 859.1 L970.9 859.1 L975.4 857.7" fill="none" stroke="#111" stroke-width="0.9" />
<path d="M963.9 859.1 L963.9 861.6" fill="none" stroke="#111" stroke-width="0.8" />
<path d="M970.9 859.1 L970.9 861.6" fill="none" stroke="#111" stroke-width="0.8" />
<ellipse cx="967.4" cy="851.2" rx="7" ry="2.2" fill="#fff" stroke="#111" stroke-width="1.1" />
<ellipse cx="967.4" cy="851.2" rx="6" ry="1.7" fill="#111"/>
<path d="M981.4 841.3 L981.4 847.5 L980.4 847.8 L980.4 850.5 A8 2.2 0 0 0 996.4 850.5 L996.4 847.8 L995.4 847.5 L995.4 841.3 Z" fill="#fff" stroke="#111" stroke-width="1.1"/>
<path d="M980.4 847.8 L984.9 849.2 L991.9 849.2 L996.4 847.8" fill="none" stroke="#111" stroke-width="0.9" />
<path d="M984.9 849.2 L984.9 851.7" fill="none" stroke="#111" stroke-width="0.8" />
<path d="M991.9 849.2 L991.9 851.7" fill="none" stroke="#111" stroke-width="0.8" />
<ellipse cx="988.4" cy="841.3" rx="7" ry="2.2" fill="#fff" stroke="#111" stroke-width="1.1" />
<ellipse cx="988.4" cy="841.3" rx="6" ry="1.7" fill="#111"/>
<rect x="1003.1" y="852.7" width="10.6" height="15.6" rx="1.2" fill="#111"/>
<path d="M997.7 868.5 L997.7 871 L999.8 871.6 L999.8 875.2 A8.4 2.2 0 0 0 1016.5 875.2 L1016.5 871.6 L1018.6 871 L1018.6 868.5 Z" fill="#fff" stroke="#111" stroke-width="1.1"/>
<ellipse cx="1008.2" cy="868.5" rx="10.4" ry="2.2" fill="#fff" stroke="#111" stroke-width="1.1" />
<path d="M1003.1 868.5 Q1008.2 871 1013.7 868.5 L1013.7 866.3 L1003.1 866.3Z" fill="#111"/>
<path d="M1005 871.8 L1005 876.4" fill="none" stroke="#111" stroke-width="0.8" />
<path d="M1011.3 871.8 L1011.3 876.4" fill="none" stroke="#111" stroke-width="0.8" />
<circle cx="1074.2" cy="883.6" r="0.8" fill="#333"/>
<rect x="1025.05" y="636.75" width="48.9" height="48.3" fill="none" stroke="#f00" stroke-width="5.3"/>
<path d="M1038.2 168.7 L1038.2 206.2M1038.2 168.7 L1031.4 175.4M1031.4 206.2 L1045 206.2" fill="none" stroke="#474747" stroke-width="1.15" stroke-linejoin="round"/>
<path d="M1030.4 234 L1035.2 227.9 L1049.7 227.9 L1056.6 234.8 L1056.6 239.7 L1049.7 247 L1035.2 247 L1030.4 252.7 L1030.4 266.7 L1056.6 266.7" fill="none" stroke="#474747" stroke-width="1.15" stroke-linejoin="round"/>
<path d="M1029.4 288.2 L1035.2 281.2 L1049 281.2 L1055.6 288.2 L1055.6 295.9 L1049 301.4 L1042 301.4M1049 301.4 L1055.6 308 L1055.6 313.4 L1049 320 L1035.2 320 L1029.4 313.4" fill="none" stroke="#474747" stroke-width="1.15" stroke-linejoin="round"/>
<path d="M1033.3 334.7 L1038.3 328.7 L1053.3 328.7 L1060.5 335.5 L1060.5 340.3 L1053.3 347.5 L1038.3 347.5 L1033.3 353.1 L1033.3 366.9 L1060.5 366.9" fill="none" stroke="#474747" stroke-width="1.15" stroke-linejoin="round"/>
<path d="M1052.4 379.5 L1033.3 404.4 L1059.5 404.4M1052.4 379.5 L1052.4 416.4" fill="none" stroke="#474747" stroke-width="1.15" stroke-linejoin="round"/>
<path d="M1031.2 430.1 L1031.2 468.1M1031.2 430.1 L1024.4 436.9M1024.4 468.1 L1038 468.1" fill="none" stroke="#474747" stroke-width="1.15" stroke-linejoin="round"/>
<path d="M1056.3 430.1 L1062.5 430.1 L1068.8 436.9 L1068.8 461.3 L1062.5 468.1 L1056.3 468.1 L1050.4 462.8 L1050.4 436.2 L1056.3 430.1" fill="none" stroke="#474747" stroke-width="1.15" stroke-linejoin="round"/>
<path d="M882.6 427.1 L856.4 427.1 L856.4 439.3 L876 439.3 L881.8 446.5 L881.8 458 L876 465.2 L861.4 465.2 L856.4 458.7" fill="none" stroke="#474747" stroke-width="1.15" stroke-linejoin="round"/>
<path d="M840 451 L832.7 451 L820.7 463.5 L820.7 485.1 L825.5 490.2 L841 490.2 L845.7 485.1 L845.7 477.3 L840 470.6 L820.7 470.6" fill="none" stroke="#474747" stroke-width="1.15" stroke-linejoin="round"/>
<path d="M1042.1 480.7 L1068.3 480.7 L1048.4 517.6" fill="none" stroke="#474747" stroke-width="1.15" stroke-linejoin="round"/>
<path d="M1034.2 586.1 L1047 586.1 L1053.3 591.1 L1053.3 600.2 L1047 605.2 L1034.2 605.2 L1027.9 600.2 L1027.9 591.1 L1034.2 586.1M1034.2 605.2 L1027.9 610.1 L1027.9 619.2 L1034.2 624.2 L1047 624.2 L1053.3 619.2 L1053.3 610.1 L1047 605.2" fill="none" stroke="#474747" stroke-width="1.15" stroke-linejoin="round"/>
<path d="M1060.1 661.5 L1040.2 661.5 L1034.3 655.7 L1034.3 648 L1040.2 642.6 L1053.9 642.6 L1060.1 649.1 L1060.1 667.6 L1047.7 680.7 L1040.5 680.7" fill="none" stroke="#474747" stroke-width="1.15" stroke-linejoin="round"/>
<path d="M1046.3 749.3 L1072.8 749.3 L1052.7 786.3" fill="none" stroke="#474747" stroke-width="1.15" stroke-linejoin="round"/>
<path d="M849 774.9 L821.9 774.9 L821.9 787.4 L842.2 787.4 L848.2 794.8 L848.2 806.6 L842.2 814 L827 814 L821.9 807.4" fill="none" stroke="#474747" stroke-width="1.15" stroke-linejoin="round"/>
<path d="M842.9 834.2 L835.1 834.2 L822.3 846.5 L822.3 867.5 L827.4 872.5 L843.9 872.5 L849 867.5 L849 859.9 L842.9 853.4 L822.3 853.4" fill="none" stroke="#474747" stroke-width="1.15" stroke-linejoin="round"/>
<path d="M1030.4 196.9 L1012 218.7 M998.4 234.7 L1008.8 216 L1015.2 221.4 Z" fill="#fff" stroke="#474747" stroke-width="1.0" stroke-linejoin="miter"/>
<path d="M1031.4 247.3 L1011.1 271 M997.4 287 L1007.9 268.3 L1014.3 273.8 Z" fill="#fff" stroke="#474747" stroke-width="1.0" stroke-linejoin="miter"/>
<path d="M1023.6 308.7 L1005.2 327.6 M990.6 342.7 L1002.2 324.7 L1008.2 330.6 Z" fill="#fff" stroke="#474747" stroke-width="1.0" stroke-linejoin="miter"/>
<path d="M1033.3 350.8 L1013.2 368.5 M997.4 382.4 L1010.4 365.4 L1015.9 371.7 Z" fill="#fff" stroke="#474747" stroke-width="1.0" stroke-linejoin="miter"/>
<path d="M1035.3 393.1 L1014.9 409.2 M998.4 422.2 L1012.3 405.9 L1017.5 412.5 Z" fill="#fff" stroke="#474747" stroke-width="1.0" stroke-linejoin="miter"/>
<path d="M1024.3 453.3 L994.3 459.6 M973.8 464 L993.5 455.5 L995.2 463.8 Z" fill="#fff" stroke="#474747" stroke-width="1.0" stroke-linejoin="miter"/>
<path d="M883.8 458.1 L906.6 476 M923.1 489 L904 479.3 L909.2 472.7 Z" fill="#fff" stroke="#474747" stroke-width="1.0" stroke-linejoin="miter"/>
<path d="M842.1 470 L860.9 489.4 M875.5 504.5 L857.9 492.3 L863.9 486.5 Z" fill="#fff" stroke="#474747" stroke-width="1.0" stroke-linejoin="miter"/>
<path d="M1046.9 501 L1026.3 532.3 M1014.8 549.8 L1022.8 529.9 L1029.8 534.6 Z" fill="#fff" stroke="#474747" stroke-width="1.0" stroke-linejoin="miter"/>
<path d="M1021 616.8 L994.2 645 M979.7 660.2 L991.1 642.1 L997.2 647.9 Z" fill="#fff" stroke="#474747" stroke-width="1.0" stroke-linejoin="miter"/>
<path d="M1034.7 665.4 L1014.1 694.1 M1001.9 711.2 L1010.7 691.7 L1017.5 696.6 Z" fill="#fff" stroke="#474747" stroke-width="1.0" stroke-linejoin="miter"/>
<path d="M1053.8 765.1 L1032.5 781.1 M1015.7 793.7 L1030 777.7 L1035 784.5 Z" fill="#fff" stroke="#474747" stroke-width="1.0" stroke-linejoin="miter"/>
<path d="M844.6 815.7 L865.9 834.6 M881.6 848.5 L863.1 837.7 L868.7 831.4 Z" fill="#fff" stroke="#474747" stroke-width="1.0" stroke-linejoin="miter"/>
<path d="M849 857.7 L877.3 864.9 M897.7 870 L876.3 868.9 L878.4 860.8 Z" fill="#fff" stroke="#474747" stroke-width="1.0" stroke-linejoin="miter"/>
</svg>
<div class="hdr" id="h1" style="left:410px;top:46px;font-size:23.3px;transform:scaleX(0.82);transform-origin:0 0;">Иллюстрированный каталог запасных частей (28.09.2022)</div>
<div class="hdr" id="h2" style="left:1002px;top:37px;font-size:33px;transform:scaleX(0.94);transform-origin:0 0;">GS5080</div>
<svg width="1134" height="100" style="position:absolute;left:0;top:0">
<path d="M74.8 12.6 L72.5 20 L70 27.8 Q69 29.5 66.5 29.3 L63.5 28.8 Q62.5 22 60.8 18 Q58.5 16.5 56.5 19 Q47 30 39.5 49 Q36.5 60 38 64.5 Q39.5 67 42.5 65.8 Q50 61 56.5 56.8 L58 58.5 Q55 64 49 67.5 Q40 71.5 33 71.2 Q24 70 22 60 Q21 50 27 39 Q34 26 45 17.5 Q54 11.5 64 12 Q69 12.7 74.8 12.6 Z" fill="#231f20"/>
<g transform="translate(0,60.5) skewX(-12) translate(0,-60.5)">
<text x="64" y="60.5" font-size="47" textLength="288" lengthAdjust="spacingAndGlyphs" fill="#231f20" stroke="#231f20" stroke-width="1.6" font-family="Liberation Serif" font-weight="bold" font-style="italic">HAMPION</text>
</g>
<circle cx="360" cy="33" r="3.6" fill="none" stroke="#231f20" stroke-width="0.9"/>
<text x="360" y="35.2" font-size="5.5" text-anchor="middle" fill="#231f20" font-family="Liberation Sans" font-weight="bold">R</text>
</svg>
</body></html>
